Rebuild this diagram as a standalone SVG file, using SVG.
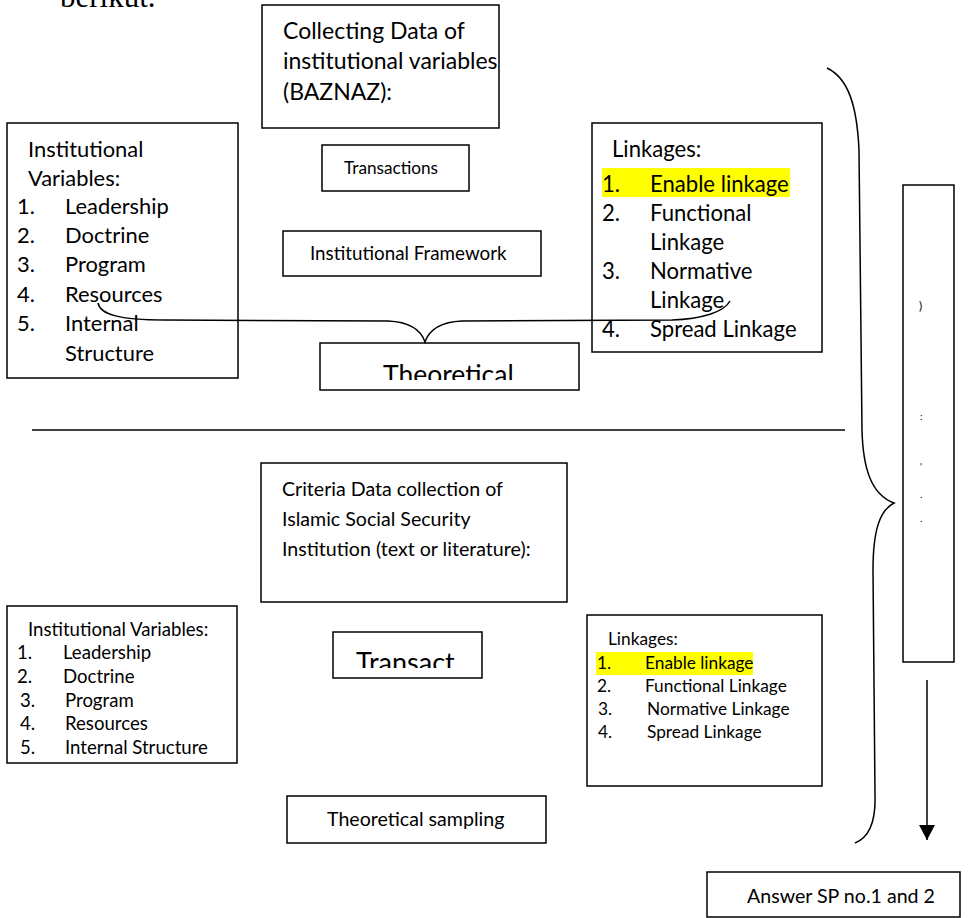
<svg xmlns="http://www.w3.org/2000/svg" width="978" height="918" viewBox="0 0 978 918">
<style>
  text { font-family: Lato, "Liberation Sans", sans-serif; fill: #000; }
  .box { fill: #fff; stroke: #000; stroke-width: 1.5; }
  .line { fill: none; stroke: #000; stroke-width: 1.5; }
  .hl { fill: #ffff00; }
  .serif { font-family: "Liberation Serif", serif; }
</style>
<defs>
  <clipPath id="clipTheo"><rect x="320" y="343" width="260" height="37"/></clipPath>
  <clipPath id="clipTrans"><rect x="333" y="632" width="150" height="36"/></clipPath>
  <marker id="arrow" markerWidth="16" markerHeight="16" refX="15" refY="8" orient="auto" markerUnits="userSpaceOnUse" viewBox="0 0 16 16">
    <path d="M0 0 L15 8 L0 16 Z" fill="#000"/>
  </marker>
</defs>

<text class="serif" x="60" y="7" font-size="31">berikut.</text>

<g id="collecting-data">
  <rect class="box" x="262" y="5" width="237" height="123"/>
  <g font-size="23">
    <text x="283" y="39">Collecting Data of</text>
    <text x="283" y="69">institutional variables</text>
    <text x="283" y="100">(BAZNAZ):</text>
  </g>
</g>

<g id="institutional-variables-1">
  <rect class="box" x="7" y="123" width="231" height="255"/>
  <g font-size="21.9">
    <text x="28" y="157">Institutional</text>
    <text x="28" y="186">Variables:</text>
    <text x="17" y="214">1.</text><text x="65" y="214">Leadership</text>
    <text x="17" y="243">2.</text><text x="65" y="243">Doctrine</text>
    <text x="17" y="272">3.</text><text x="65" y="272">Program</text>
    <text x="17" y="302">4.</text><text x="65" y="302">Resources</text>
    <text x="17" y="331">5.</text><text x="65" y="331">Internal</text>
    <text x="65" y="361">Structure</text>
  </g>
</g>

<g id="transactions-1">
  <rect class="box" x="322" y="145" width="147" height="46"/>
  <text x="344" y="174" font-size="17.2">Transactions</text>
</g>

<g id="institutional-framework">
  <rect class="box" x="283" y="231" width="258" height="45"/>
  <text x="310" y="260" font-size="18.8">Institutional Framework</text>
</g>

<g id="linkages-1">
  <rect class="box" x="592" y="123" width="230" height="229"/>
  <rect class="hl" x="602" y="168" width="188" height="29"/>
  <g font-size="22.1">
    <text x="612" y="157">Linkages:</text>
    <text x="602" y="192">1.</text><text x="650" y="192">Enable linkage</text>
    <text x="602" y="221">2.</text><text x="650" y="221">Functional</text>
    <text x="650" y="250">Linkage</text>
    <text x="602" y="279">3.</text><text x="650" y="279">Normative</text>
    <text x="650" y="308">Linkage</text>
    <text x="602" y="337">4.</text><text x="650" y="337">Spread Linkage</text>
  </g>
</g>

<g id="theoretical">
  <rect class="box" x="320" y="343" width="259" height="47"/>
  <text x="383" y="384" font-size="26.5" clip-path="url(#clipTheo)">Theoretical</text>
</g>

<g id="criteria-data">
  <rect class="box" x="261" y="463" width="306" height="139"/>
  <g font-size="19.6">
    <text x="282" y="496">Criteria Data collection of</text>
    <text x="282" y="526">Islamic Social Security</text>
    <text x="282" y="556">Institution (text or literature):</text>
  </g>
</g>

<g id="transact">
  <rect class="box" x="333" y="632" width="149" height="46"/>
  <text x="356" y="672" font-size="27" clip-path="url(#clipTrans)">Transact</text>
</g>

<g id="institutional-variables-2">
  <rect class="box" x="7" y="606" width="230" height="157"/>
  <g font-size="18.6">
    <text x="28" y="636">Institutional Variables:</text>
    <text x="17" y="659">1.</text><text x="63" y="659">Leadership</text>
    <text x="17" y="683">2.</text><text x="63" y="683">Doctrine</text>
    <text x="20" y="707">3.</text><text x="65" y="707">Program</text>
    <text x="20" y="730">4.</text><text x="65" y="730">Resources</text>
    <text x="20" y="754">5.</text><text x="65" y="754">Internal Structure</text>
  </g>
</g>

<g id="linkages-2">
  <rect class="box" x="587" y="615" width="235" height="171"/>
  <rect class="hl" x="596" y="652" width="157" height="23"/>
  <g font-size="17.3">
    <text x="608" y="645">Linkages:</text>
    <text x="597" y="669">1.</text><text x="645" y="669">Enable linkage</text>
    <text x="597" y="692">2.</text><text x="645" y="692">Functional Linkage</text>
    <text x="598" y="715">3.</text><text x="647" y="715">Normative Linkage</text>
    <text x="598" y="738">4.</text><text x="647" y="738">Spread Linkage</text>
  </g>
</g>

<g id="theoretical-sampling">
  <rect class="box" x="287" y="796" width="259" height="47"/>
  <text x="327" y="826" font-size="19.6">Theoretical sampling</text>
</g>

<g id="synthesis-column">
  <rect class="box" x="903" y="185" width="51" height="477"/>
  <text x="919" y="310" font-size="12">)</text>
  <text x="920" y="420" font-size="10">:</text>
  <text x="920" y="470" font-size="10">'</text>
  <text x="920" y="498" font-size="10">.</text>
  <text x="920" y="522" font-size="10">.</text>
</g>

<g id="answer">
  <rect class="box" x="707" y="872" width="253" height="45"/>
  <text x="747" y="903" font-size="19.6">Answer SP no.1 and 2</text>
</g>

<g id="connectors">
  <path class="line" d="M98 303 C100 314 118 320 165 320 L388 321 C410 322 421 330 425 342 C429 330 440 322 462 321 L672 320 C702 319 724 312 730 301"/>
  <line class="line" x1="32" y1="430" x2="845" y2="430"/>
  <path class="line" d="M827 68 C848 78 857 105 859 150 L862 430 C863 470 872 495 894 503 C880 510 873 530 873 570 L875 795 C876 825 868 838 855 843"/>
  <line class="line" x1="927" y1="680" x2="927" y2="840" marker-end="url(#arrow)"/>
</g>
</svg>
